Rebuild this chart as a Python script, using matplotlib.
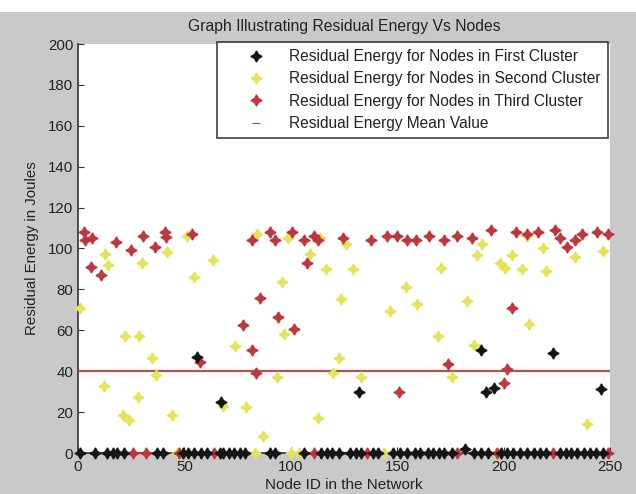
import matplotlib
matplotlib.use("Agg")
import matplotlib.pyplot as plt
from matplotlib.patches import Rectangle
from matplotlib.lines import Line2D

plt.rcParams['font.family'] = ['Liberation Sans', 'DejaVu Sans']

# ---------------- data ----------------
first_x = [56, 67, 132, 189.5, 191.5, 195.5, 223, 246, 181.7,
           0.9, 7.8, 13.8, 16.4, 18.2, 21.6, 37.2, 39.8, 49.3, 51.9, 54.5, 58, 60.6,
           66.6, 68.3, 70.9, 73.5, 76.1, 78.7, 90, 92.6, 106.4, 114.2, 116.8, 119.4,
           122.8, 128, 130.6, 133.2, 138.4, 141, 147.9, 151.4, 154.8, 158.3, 160.9,
           164.4, 167, 169.6, 172.1, 175.6, 186, 189.4, 192.9, 199, 201.6, 204.2,
           207.6, 211.1, 214.5, 217.1, 219.7, 226.6, 229.2, 231.8, 234.4, 237.9,
           240.8, 243.4, 246.5]
first_y = [47, 25, 30, 50.5, 30, 32, 49, 31.5, 2] + [0] * 60

second_x = [1, 12, 12.7, 14, 21, 24, 22, 28.5, 28, 30, 35, 36.6, 42, 44, 51, 54.5,
            63.5, 68, 74, 79, 84, 87, 93.5, 96, 96.7, 98.7, 109, 113, 113.7, 116.5,
            120, 122.6, 123.6, 126, 129, 133, 146.6, 154, 159.5, 169, 170.8, 175.7,
            183, 186, 187.5, 190, 198.5, 200.6, 204, 208.6, 211, 212, 218.5, 220,
            233.6, 239, 246.5,
            46.7, 83, 100.3, 103.8, 143.6, 196.4]
second_y = [71, 33, 97.5, 92, 18.5, 16, 57, 57, 27.5, 93, 46.5, 38, 98.5, 18.5, 106,
            86, 94.6, 23, 52.5, 22.5, 107, 8.5, 37, 83.5, 58, 105, 97.5, 17, 105, 90,
            39, 46.5, 75.5, 102, 90, 37, 69.5, 81, 73, 57, 90.5, 37, 74.5, 53, 96.6,
            102, 93, 90.5, 96.6, 90, 106, 63, 100, 89, 95.6, 14, 99,
            0, 0, 0, 0, 0, 0]

third_x = [3, 3.5, 6.5, 6, 11, 18, 25, 30.5, 36, 41, 41.5, 53.6, 57.5, 77.5, 82, 82,
           83.6, 85.5, 90, 92.6, 94, 100.5, 101.5, 106, 107.5, 111, 113, 124.5,
           137.7, 145, 150, 151, 154.6, 159, 165, 172, 174, 178, 185, 194, 200,
           201.5, 204, 206, 211, 216, 224, 226.6, 230, 233.6, 237, 244, 249,
           26, 32, 47.5, 64, 110.7, 135.8, 178.2, 197, 223.2, 249]
third_y = [108, 104, 105, 91, 87, 103, 99.5, 106, 100.5, 108, 105.5, 107, 44.5, 62.5,
           50.5, 104, 39, 76, 108, 104, 66.5, 108, 60.5, 104, 93, 106, 104, 105, 104,
           106, 106, 30, 104, 104, 106, 104, 43.5, 106, 105, 109, 34, 41, 71, 108,
           107, 108, 109, 105, 100.5, 104, 107, 108, 107,
           0, 0, 0, 0, 0, 0, 0, 0, 0, 0]

mean_value = 40

labels = ['Residual Energy for Nodes in First Cluster',
          'Residual Energy for Nodes in Second Cluster',
          'Residual Energy for Nodes in Third Cluster',
          'Residual Energy Mean Value']

# ---------------- figure ----------------
fig = plt.figure(figsize=(6.36, 4.94), dpi=100, facecolor='#c9c9c9')
fig.patches.append(Rectangle((0, 1 - 12 / 494), 1, 12 / 494, transform=fig.transFigure,
                             facecolor='white', edgecolor='none', zorder=-1))
ax = fig.add_axes([78 / 636, (494 - 453) / 494, 532 / 636, 409 / 494])
ax.set_facecolor('white')

star = (4, 1, 0)
ms = 8
mean_color = '#b0524e'
h1, = ax.plot(first_x, first_y, linestyle='none', marker=star, markersize=ms,
              color='#151515', zorder=5, clip_on=False)
h2, = ax.plot(second_x, second_y, linestyle='none', marker=star, markersize=ms,
              color='#e4e45a', zorder=3, clip_on=False)
h3, = ax.plot(third_x, third_y, linestyle='none', marker=star, markersize=ms,
              color='#c0363c', zorder=4, clip_on=False)
ax.axhline(mean_value, color=mean_color, linewidth=1.6, zorder=2)
h4 = Line2D([], [], linestyle='none', marker='_', markersize=6,
            markeredgewidth=0.8, color=mean_color)

ax.set_xlim(0, 250)
ax.set_ylim(0, 200)
ax.set_xticks(range(0, 251, 50))
ax.set_yticks(range(0, 201, 20))
ax.tick_params(direction='in', length=4, labelsize=10.8, colors='#333333',
               labelcolor='#222222')
ax.tick_params(axis='x', pad=5)
for s in ['top', 'right']:
    ax.spines[s].set_visible(False)
for s in ['left', 'bottom']:
    ax.spines[s].set_color('#333333')
    ax.spines[s].set_linewidth(1.2)
    ax.spines[s].set_zorder(1)

ax.set_title('Graph Illustrating Residual Energy Vs Nodes', fontsize=11.3,
             color='#222222', pad=9)
ax.set_xlabel('Node ID in the Network', fontsize=11, color='#222222', labelpad=3)
ax.set_ylabel('Residual Energy in Joules', fontsize=10.8, color='#222222', labelpad=6)

leg = ax.legend([h1, h2, h3, h4], labels, loc='upper right',
                bbox_to_anchor=(0.996, 1.005), fontsize=11.2, frameon=True,
                fancybox=False, edgecolor='#111111', handlelength=4.1,
                handletextpad=0.1, borderpad=0.45, labelspacing=0.48,
                borderaxespad=0)
leg.get_frame().set_linewidth(1.2)
leg.set_zorder(10)
for t in leg.get_texts():
    t.set_color('#222222')

fig.savefig('out.png', dpi=100, facecolor=fig.get_facecolor())
